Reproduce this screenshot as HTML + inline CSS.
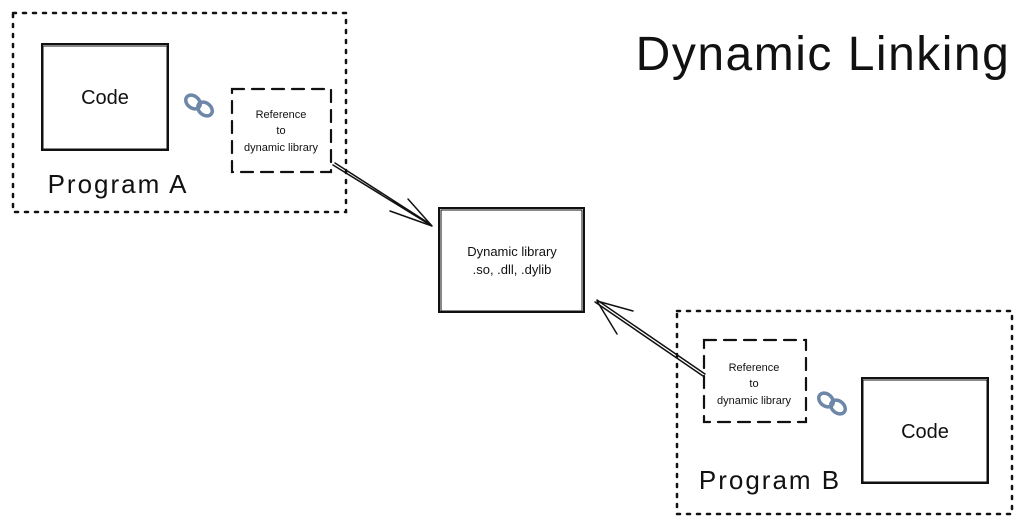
<!DOCTYPE html>
<html><head><meta charset="utf-8"><style>
html,body{margin:0;padding:0;background:#fff;}
body{width:1024px;height:527px;overflow:hidden;position:relative;font-family:"Liberation Sans",sans-serif;color:#111;}
svg{position:absolute;left:0;top:0;}
</style></head><body>
<svg width="1024" height="527" viewBox="0 0 1024 527" xmlns="http://www.w3.org/2000/svg">
<g fill="none" stroke="#111" stroke-linecap="round">
<rect x="13" y="13" width="333" height="199" stroke-width="2.5" stroke-dasharray="3 7"/>
<rect x="42" y="44" width="126" height="106" stroke-width="2"/>
<rect x="43" y="46" width="124" height="103" stroke-width="1"/>
<rect x="232" y="89" width="99" height="83" stroke-width="2.2" stroke-dasharray="12 8"/>
<rect x="439" y="208" width="145" height="104" stroke-width="2"/>
<rect x="441" y="210" width="141" height="101" stroke-width="1"/>
<rect x="677" y="311" width="335" height="203" stroke-width="2.5" stroke-dasharray="3 7"/>
<rect x="704" y="340" width="102" height="82" stroke-width="2.2" stroke-dasharray="12 8"/>
<rect x="862" y="378" width="126" height="105" stroke-width="2"/>
<rect x="863" y="380" width="124" height="102" stroke-width="1"/>
<!-- Arrow A -->
<path d="M333 165 L432 226 M335 163 L430 224" stroke-width="1.5"/>
<path d="M390 211 L432 226 L408 199" stroke-width="1.5"/>
<!-- Arrow B -->
<path d="M703 376 L595 302 M705 374 L597 300" stroke-width="1.5"/>
<path d="M597 301 L633 311 M597 301 L617 334" stroke-width="1.5"/>
</g>
<g fill="none" stroke="#6d87a8" stroke-width="3.5">
<ellipse cx="193" cy="102" rx="8" ry="6" transform="rotate(40 193 102)"/>
<ellipse cx="205" cy="109" rx="8" ry="6" transform="rotate(40 205 109)"/>
<ellipse cx="826" cy="400" rx="8" ry="6" transform="rotate(40 826 400)"/>
<ellipse cx="838" cy="407" rx="8" ry="6" transform="rotate(40 838 407)"/>
</g>
<g font-family="Liberation Sans, sans-serif" fill="#111" text-anchor="middle">
<text x="105" y="104" font-size="20">Code</text>
<text x="925" y="438" font-size="20">Code</text>
<text x="281" y="118" font-size="11">Reference</text>
<text x="281" y="134" font-size="11">to</text>
<text x="281" y="151" font-size="11">dynamic library</text>
<text x="754" y="371" font-size="11">Reference</text>
<text x="754" y="387" font-size="11">to</text>
<text x="754" y="404" font-size="11">dynamic library</text>
<text x="512" y="256" font-size="13">Dynamic library</text>
<text x="512" y="274" font-size="13">.so, .dll, .dylib</text>
<text x="118" y="193" font-size="26" letter-spacing="2">Program A</text>
<text x="770" y="489" font-size="26" letter-spacing="2">Program B</text>
<text x="823" y="70" font-size="48" letter-spacing="1.5">Dynamic Linking</text>
</g>
</svg>
</body></html>
